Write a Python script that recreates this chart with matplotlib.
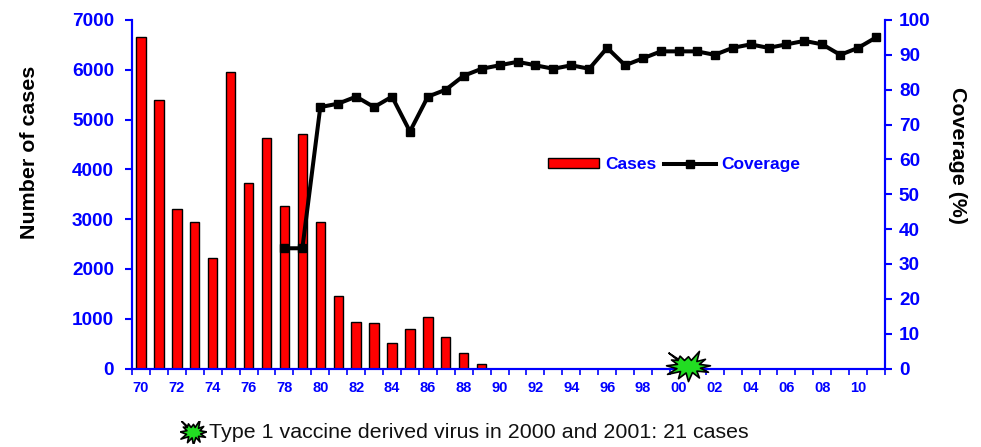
"""
Reported cases (bars) and vaccine coverage (line) by year, 1970 to 2011.
Saves the figure as out.png.
"""
import matplotlib.pyplot as plt
import numpy as np
from matplotlib.lines import Line2D
from matplotlib.patches import Patch
from matplotlib.path import Path

plt.rcParams["font.family"] = ["Liberation Sans", "DejaVu Sans"]

BLUE = "#0000ff"

years = ["70", "71", "72", "73", "74", "75", "76", "77", "78", "79", "80", "81",
         "82", "83", "84", "85", "86", "87", "88", "89", "90", "91", "92", "93",
         "94", "95", "96", "97", "98", "99", "00", "01", "02", "03", "04", "05",
         "06", "07", "08", "09", "10", "11"]
cases = [6650, 5400, 3200, 2950, 2210, 5960, 3720, 4620, 3270, 4720, 2940, 1460,
         940, 920, 520, 790, 1040, 640, 320, 100]
coverage = [34.5, 34.5, 75, 76, 78, 75, 78, 68, 78, 80, 84, 86, 87, 88, 87, 86,
            87, 86, 92, 87, 89, 91, 91, 91, 90, 92, 93, 92, 93, 94, 93, 90, 92, 95]
case_ticks = [0, 1000, 2000, 3000, 4000, 5000, 6000, 7000]
coverage_ticks = [0, 10, 20, 30, 40, 50, 60, 70, 80, 90, 100]

# irregular burst used for the vaccine derived virus note: outer spike, inner notch, ...
BURST = np.array([(-1.0, 0.95), (-0.5, 0.5), (-0.42, 0.72), (-0.2, 0.42), (0.0, 0.68), (0.14, 0.42),
                  (0.55, 1.05), (0.42, 0.35), (0.85, 0.5), (0.55, 0.15), (1.1, 0.05), (0.6, -0.12),
                  (1.0, -0.4), (0.42, -0.32), (0.55, -0.8), (0.2, -0.42), (0.0, -1.05), (-0.12, -0.45),
                  (-0.5, -0.85), (-0.4, -0.35), (-1.05, -0.55), (-0.58, -0.15), (-1.1, 0.05),
                  (-0.55, 0.15), (-0.85, 0.45), (-0.52, 0.42), (-1.0, 0.95)])
burst_marker = Path(BURST * [1.0, 0.72])

fig, ax = plt.subplots(figsize=(9.81, 4.47), dpi=100)
fig.subplots_adjust(left=0.1346, right=0.9022, top=0.9553, bottom=0.1756)

x = np.arange(len(years))
ax.bar(x[:len(cases)], cases, width=0.52, color="#ff0000", edgecolor="black", linewidth=1)
ax.set_xlim(-0.5, len(years) - 0.5)
ax.set_ylim(0, 7000)
ax.set_yticks(case_ticks)
ax.set_xticks(np.arange(len(years) + 1) - 0.5)
ax.set_xticklabels([])
ax.set_xticks(x[::2], years[::2], minor=True)
ax.tick_params(axis="x", which="major", length=4, width=1.2, color=BLUE)
ax.tick_params(axis="x", which="minor", length=0, pad=9, labelsize=10.5, labelcolor=BLUE)
ax.tick_params(axis="y", length=5, width=1.5, color=BLUE, labelsize=13.7, labelcolor=BLUE, pad=8)
for label in ax.get_xticklabels(minor=True) + ax.get_yticklabels():
    label.set_fontweight("bold")
ax.set_ylabel("Number of cases", fontsize=15.4, fontweight="bold")
ax.yaxis.set_label_coords(-0.124, 0.62)

ax2 = ax.twinx()
ax2.plot(x[8:], coverage, color="black", linewidth=2.9, marker="s", markersize=5.5)
ax2.set_ylim(0, 100)
ax2.set_yticks(coverage_ticks)
ax2.tick_params(axis="y", length=5, width=1.5, color=BLUE, labelsize=13.7, labelcolor=BLUE, pad=5)
for label in ax2.get_yticklabels():
    label.set_fontweight("bold")
ax2.set_ylabel("Coverage (%)", fontsize=15.4, fontweight="bold", rotation=270, va="center")
ax2.yaxis.set_label_coords(1.096, 0.61)

for axis in (ax, ax2):
    axis.spines["top"].set_visible(False)
    for side in ("left", "right", "bottom"):
        axis.spines[side].set_color(BLUE)
        axis.spines[side].set_linewidth(1.5)

# burst sits between the 2000 and 2001 categories, on the axis line
ax2.scatter([years.index("00") + 0.5], [0.6], marker=burst_marker, s=1000, color="#22dd22",
            edgecolor="black", linewidth=1.2, clip_on=False, zorder=5)

handles = [Patch(facecolor="#ff0000", edgecolor="black", linewidth=1),
           Line2D([], [], color="black", linewidth=2.9, marker="s", markersize=5.5)]
ax2.legend(handles, ["Cases", "Coverage"], ncol=2, frameon=False,
           loc="center", bbox_to_anchor=(0.72, 0.585),
           handlelength=2.95, handleheight=0.46, handletextpad=0.35, columnspacing=0.46,
           labelcolor=BLUE, prop={"weight": "bold", "size": 12.5})

# note under the chart, with its own small burst as a key
fig.text(0.2135, 0.0335, "Type 1 vaccine derived virus in 2000 and 2001: 21 cases",
         fontsize=15.4, color="#111111", va="center", ha="left")
key = fig.add_axes([0.183, 0.008, 0.027, 0.05])
key.axis("off")
key.scatter([0], [0], marker=Path(BURST), s=360, color="#22dd22", edgecolor="black", linewidth=1.2)

fig.savefig("out.png", dpi=100)
